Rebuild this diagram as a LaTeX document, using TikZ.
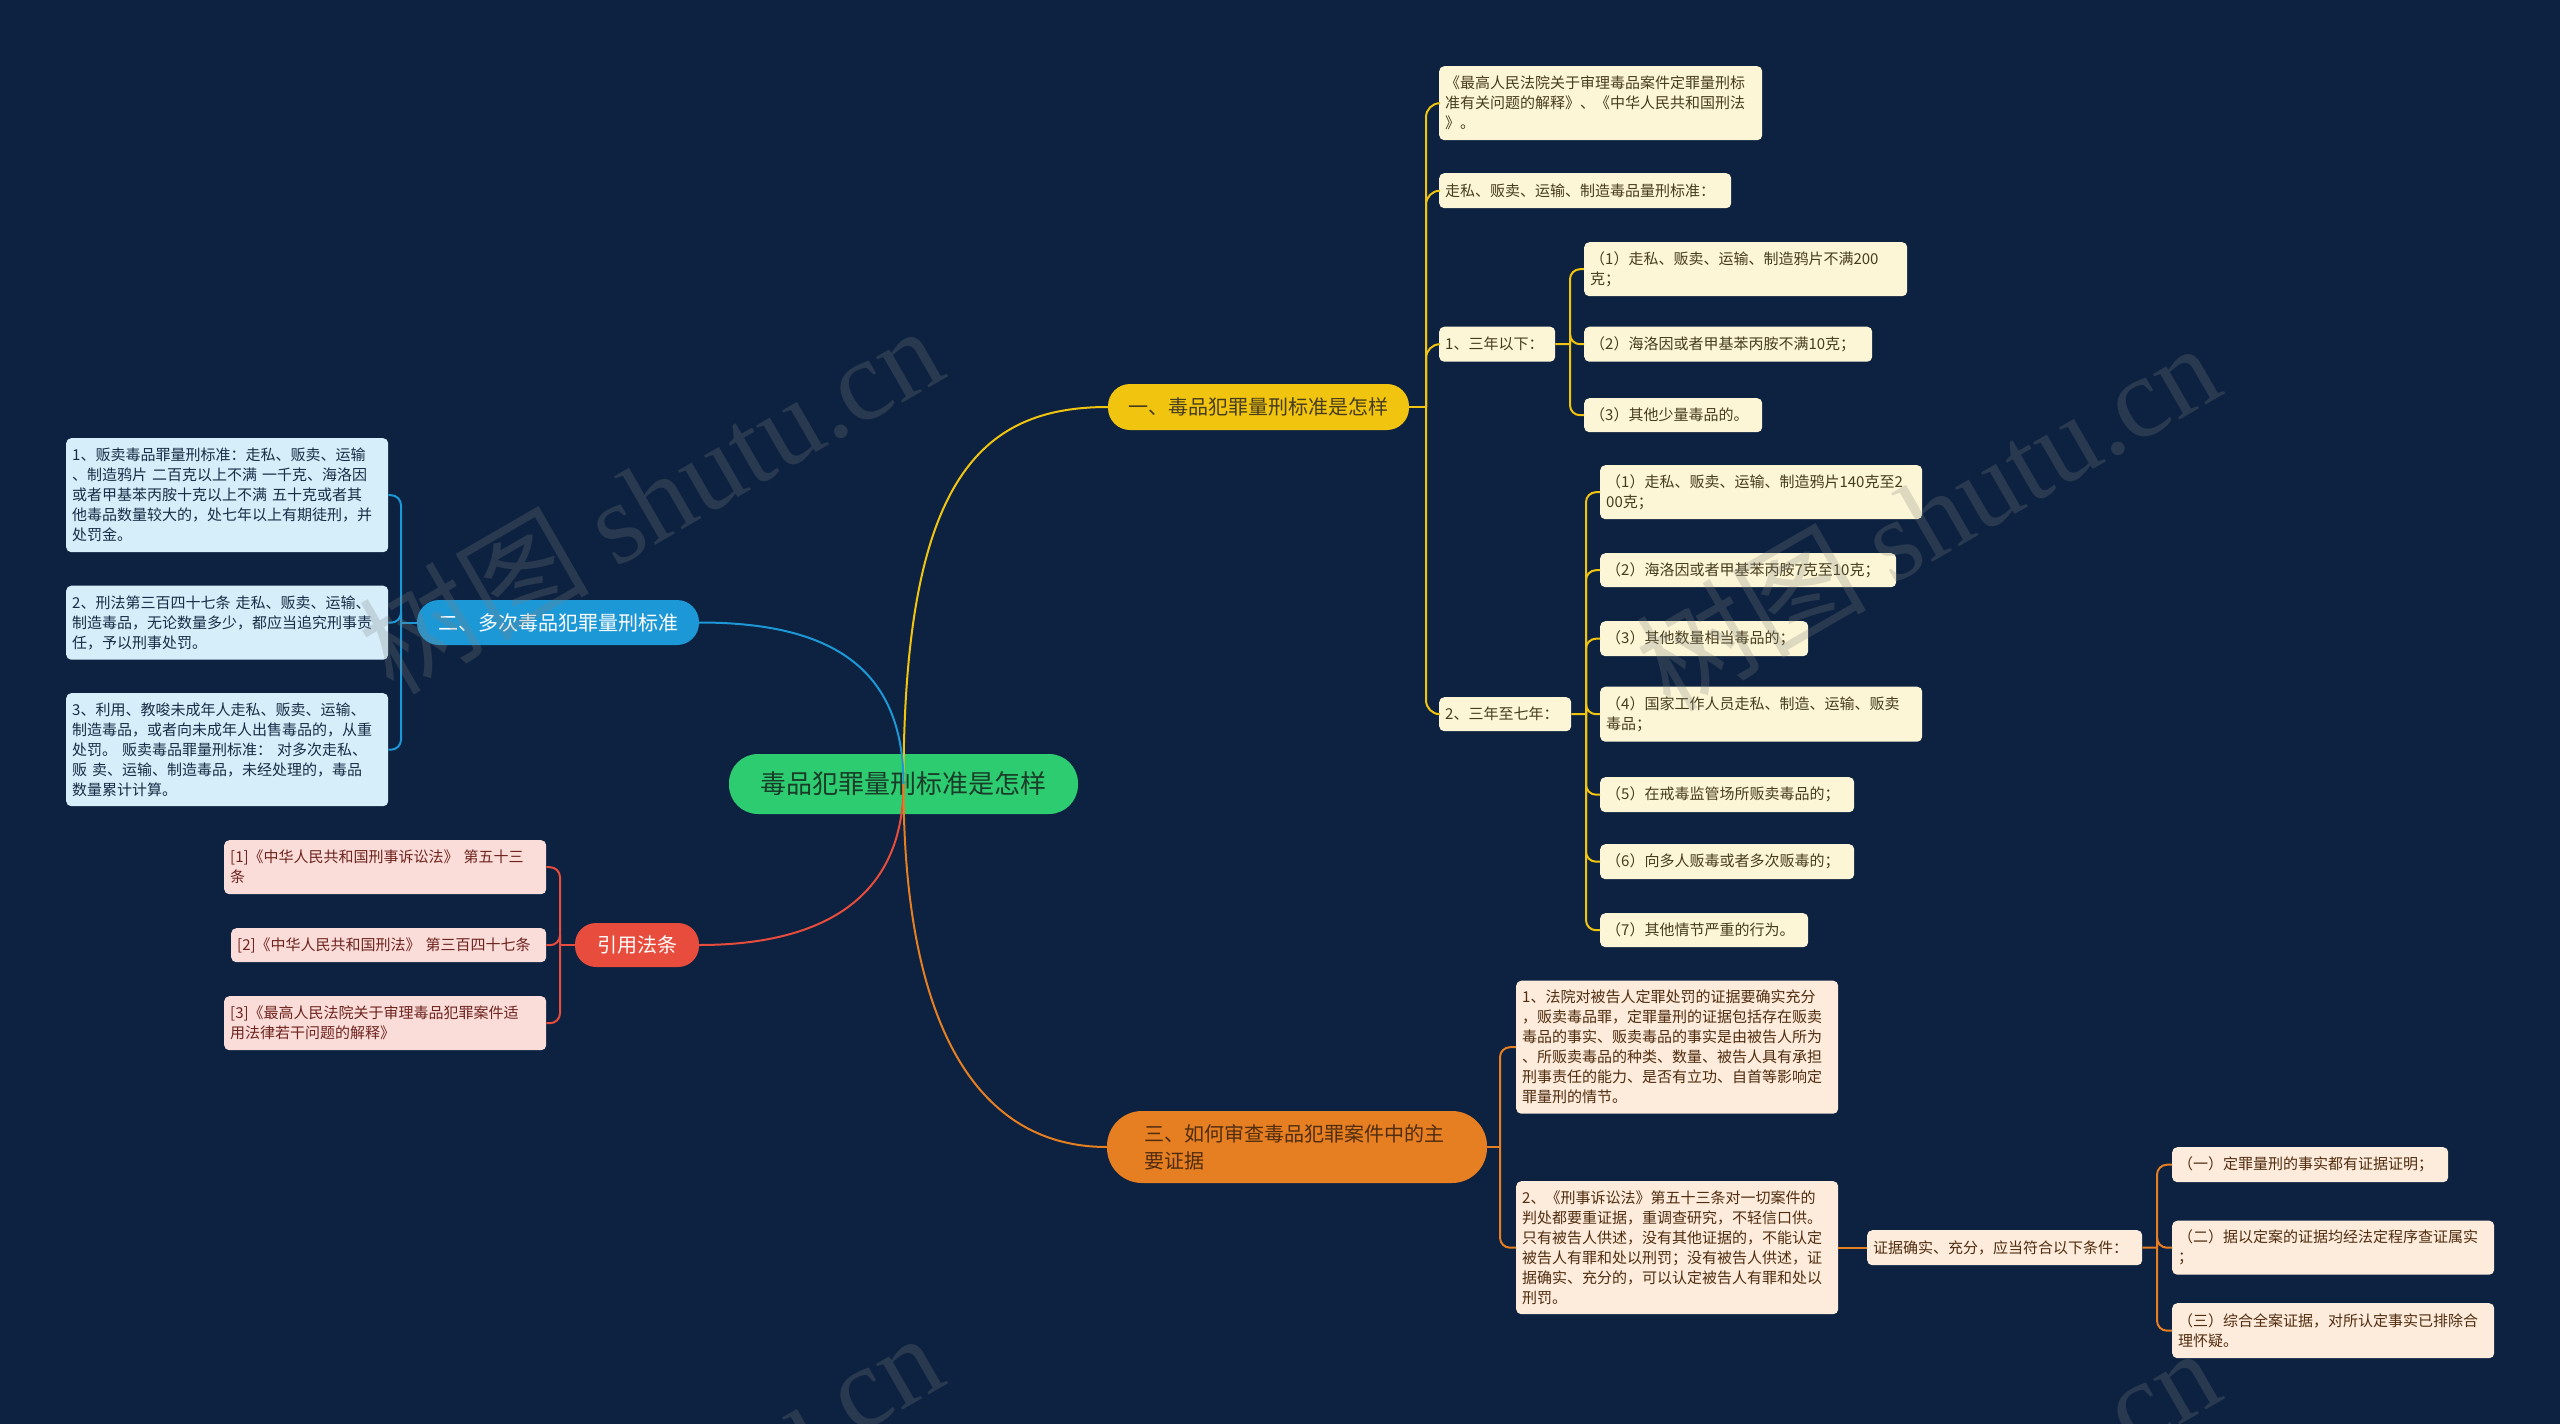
\documentclass[tikz,border=0pt]{standalone}
\usepackage{fontspec}
\setmainfont{Noto Sans CJK SC}
\newfontfamily\wmfont{Liberation Serif}
\definecolor{bgc}{RGB}{12,34,64}
\definecolor{yel}{RGB}{241,196,15}
\definecolor{cream}{RGB}{253,246,214}
\definecolor{ytext}{RGB}{70,60,30}
\definecolor{blu}{RGB}{29,152,214}
\definecolor{lblue}{RGB}{214,238,250}
\definecolor{btext}{RGB}{25,45,70}
\definecolor{ora}{RGB}{230,126,34}
\definecolor{peach}{RGB}{253,235,220}
\definecolor{otext}{RGB}{80,45,15}
\definecolor{redc}{RGB}{231,76,60}
\definecolor{pink}{RGB}{250,221,217}
\definecolor{rtext}{RGB}{110,35,30}
\definecolor{grn}{RGB}{46,204,113}
\definecolor{gtext}{RGB}{25,60,40}
\newcommand\smallfs{\fontsize{15pt}{20pt}\selectfont}
\newcommand\bigfs{\fontsize{20pt}{27pt}\selectfont}
\newcommand\rootfs{\fontsize{26pt}{30pt}\selectfont}
\tikzset{
  leaf/.style={rounded corners=5pt, inner xsep=6pt, inner ysep=0pt, align=left, font=\smallfs, anchor=north west},
  ybox/.style={leaf, fill=cream, text=ytext},
  bbox/.style={leaf, fill=lblue, text=btext},
  obox/.style={leaf, fill=peach, text=otext},
  rbox/.style={leaf, fill=pink, text=rtext},
  mainbox/.style={inner sep=0pt, align=center, font=\bigfs},
  yl/.style={draw=yel, line width=2pt},
  bl/.style={draw=blu, line width=2pt},
  ol/.style={draw=ora, line width=2pt},
  rl/.style={draw=redc, line width=2pt},
  wm/.style={text=gray, opacity=0.25, font=\fontsize{115pt}{115pt}\selectfont, inner sep=0pt}
}
\begin{document}
\begin{tikzpicture}[x=1pt,y=-1pt]
\useasboundingbox (0,0) rectangle (2560,1424);
\fill[bgc] (0,0) rectangle (2560,1424);

% root and main branches
\node[mainbox, fill=grn, text=gtext, font=\rootfs, minimum width=349pt, minimum height=60pt, rounded corners=29pt] (root) at (903.5,784) {毒品犯罪量刑标准是怎样};
\node[mainbox, fill=yel, text=ytext, minimum width=301pt, minimum height=46pt, rounded corners=22pt] (b1) at (1258.5,407) {一、毒品犯罪量刑标准是怎样};
\node[mainbox, fill=blu, text=white, minimum width=282pt, minimum height=45pt, rounded corners=22pt] (b2) at (558,622.5) {二、多次毒品犯罪量刑标准};
\node[mainbox, fill=ora, text=otext, minimum width=380pt, minimum height=72pt, rounded corners=35pt, text width=306pt, align=left] (b3) at (1297,1147) {三、如何审查毒品犯罪案件中的主\\要证据};
\node[mainbox, fill=redc, text=white, minimum width=124pt, minimum height=44pt, rounded corners=21pt] (b4) at (637,945) {引用法条};

% branch 1 children
\node[ybox, text width=311pt, minimum height=74pt] (a1) at (1439,66) {《最高人民法院关于审理毒品案件定罪量刑标\\准有关问题的解释》、《中华人民共和国刑法\\》。};
\node[ybox, text width=280pt, minimum height=35pt] (a2) at (1439,173) {走私、贩卖、运输、制造毒品量刑标准：};
\node[ybox, text width=104pt, minimum height=35pt] (a3) at (1439,326.5) {1、三年以下：};
\node[ybox, text width=120pt, minimum height=34pt] (a4) at (1439,697) {2、三年至七年：};

\node[ybox, text width=311pt, minimum height=54pt] (c11) at (1584,242) {（1）走私、贩卖、运输、制造鸦片不满200\\克；};
\node[ybox, text width=276pt, minimum height=35pt] (c12) at (1584,326.5) {（2）海洛因或者甲基苯丙胺不满10克；};
\node[ybox, text width=166pt, minimum height=34pt] (c13) at (1584,398) {（3）其他少量毒品的。};

\node[ybox, text width=310pt, minimum height=54pt] (c21) at (1600,465) {（1）走私、贩卖、运输、制造鸦片140克至2\\00克；};
\node[ybox, text width=284pt, minimum height=34pt] (c22) at (1600,553) {（2）海洛因或者甲基苯丙胺7克至10克；};
\node[ybox, text width=196pt, minimum height=35pt] (c23) at (1600,621) {（3）其他数量相当毒品的；};
\node[ybox, text width=310pt, minimum height=55pt] (c24) at (1600,686.5) {（4）国家工作人员走私、制造、运输、贩卖\\毒品；};
\node[ybox, text width=242pt, minimum height=35pt] (c25) at (1600,777) {（5）在戒毒监管场所贩卖毒品的；};
\node[ybox, text width=242pt, minimum height=35pt] (c26) at (1600,844) {（6）向多人贩毒或者多次贩毒的；};
\node[ybox, text width=196pt, minimum height=34pt] (c27) at (1600,913) {（7）其他情节严重的行为。};

% branch 2 children
\node[bbox, text width=310pt, minimum height=114pt] (d1) at (66,438) {1、贩卖毒品罪量刑标准：走私、贩卖、运输\\、制造鸦片 二百克以上不满 一千克、海洛因\\或者甲基苯丙胺十克以上不满 五十克或者其\\他毒品数量较大的，处七年以上有期徒刑，并\\处罚金。};
\node[bbox, text width=310pt, minimum height=74pt] (d2) at (66,585.5) {2、刑法第三百四十七条 走私、贩卖、运输、\\制造毒品，无论数量多少，都应当追究刑事责\\任，予以刑事处罚。};
\node[bbox, text width=310pt, minimum height=113pt] (d3) at (66,693) {3、利用、教唆未成年人走私、贩卖、运输、\\制造毒品，或者向未成年人出售毒品的，从重\\处罚。 贩卖毒品罪量刑标准： 对多次走私、\\贩 卖、运输、制造毒品，未经处理的，毒品\\数量累计计算。};

% branch 4 children
\node[rbox, text width=310pt, minimum height=54pt] (e1) at (224,840) {[1]《中华人民共和国刑事诉讼法》 第五十三\\条};
\node[rbox, text width=303pt, minimum height=34pt] (e2) at (231,928) {[2]《中华人民共和国刑法》 第三百四十七条};
\node[rbox, text width=310pt, minimum height=54pt] (e3) at (224,996) {[3]《最高人民法院关于审理毒品犯罪案件适\\用法律若干问题的解释》};

% branch 3 children
\node[obox, text width=310pt, minimum height=133pt] (f1) at (1516,980.5) {1、法院对被告人定罪处罚的证据要确实充分\\，贩卖毒品罪，定罪量刑的证据包括存在贩卖\\毒品的事实、贩卖毒品的事实是由被告人所为\\、所贩卖毒品的种类、数量、被告人具有承担\\刑事责任的能力、是否有立功、自首等影响定\\罪量刑的情节。};
\node[obox, text width=310pt, minimum height=133pt] (f2) at (1516,1181) {2、《刑事诉讼法》第五十三条对一切案件的\\判处都要重证据，重调查研究，不轻信口供。\\只有被告人供述，没有其他证据的，不能认定\\被告人有罪和处以刑罚；没有被告人供述，证\\据确实、充分的，可以认定被告人有罪和处以\\刑罚。};
\node[obox, text width=263pt, minimum height=35pt] (g) at (1867,1230) {证据确实、充分，应当符合以下条件：};
\node[obox, text width=264pt, minimum height=35pt] (h1) at (2172,1147) {（一）定罪量刑的事实都有证据证明；};
\node[obox, text width=310pt, minimum height=54pt] (h2) at (2172,1220.5) {（二）据以定案的证据均经法定程序查证属实\\；};
\node[obox, text width=310pt, minimum height=55pt] (h3) at (2172,1303) {（三）综合全案证据，对所认定事实已排除合\\理怀疑。};

% root connectors
\draw[yl] (root.center) .. controls +(0,-304) and +(-128,0) .. (b1.west);
\draw[bl] (root.center) .. controls +(0,-124) and +(121,0) .. (b2.east);
\draw[rl] (root.center) .. controls +(0,116) and +(121,0) .. (b4.east);
\draw[ol] (root.center) .. controls +(0,246) and +(-127,0) .. (b3.west);

% branch 1 tree
\coordinate (j1) at (1426,407);
\draw[yl] (b1.east) -- (j1);
\foreach \c in {a1,a2,a3,a4} \draw[yl, rounded corners=14pt] (j1) |- (\c.west);
\coordinate (j3) at (1570,344);
\draw[yl] (a3.east) -- (j3);
\foreach \c in {c11,c12,c13} \draw[yl, rounded corners=10pt] (j3) |- (\c.west);
\coordinate (j4) at (1586,714);
\draw[yl] (a4.east) -- (j4);
\foreach \c in {c21,c22,c23,c24,c25,c26,c27} \draw[yl, rounded corners=10pt] (j4) |- (\c.west);

% branch 2 tree
\coordinate (j2) at (401,622.5);
\draw[bl] (b2.west) -- (j2);
\foreach \c in {d1,d2,d3} \draw[bl, rounded corners=10pt] (j2) |- (\c.east);

% branch 4 tree
\coordinate (j5) at (560,945);
\draw[rl] (b4.west) -- (j5);
\foreach \c in {e1,e2,e3} \draw[rl, rounded corners=10pt] (j5) |- (\c.east);

% branch 3 tree
\coordinate (j6) at (1500,1147);
\draw[ol] (b3.east) -- (j6);
\foreach \c in {f1,f2} \draw[ol, rounded corners=10pt] (j6) |- (\c.west);
\draw[ol] (f2.east) -- (g.west);
\coordinate (j7) at (2157,1247.5);
\draw[ol] (g.east) -- (j7);
\foreach \c in {h1,h2,h3} \draw[ol, rounded corners=10pt] (j7) |- (\c.west);

% watermarks
\begin{scope}
\clip (0,0) rectangle (2560,1424);
\node[wm, rotate=30] (wm1) at (650,498) {树图 {\wmfont shutu.cn}};
\node[wm, rotate=30] (wm2) at (1927,515) {树图 {\wmfont shutu.cn}};
\node[wm, rotate=30] (wm3) at (650,1505) {树图 {\wmfont shutu.cn}};
\node[wm, rotate=30] (wm4) at (1927,1520) {树图 {\wmfont shutu.cn}};
\end{scope}
\end{tikzpicture}
\end{document}
